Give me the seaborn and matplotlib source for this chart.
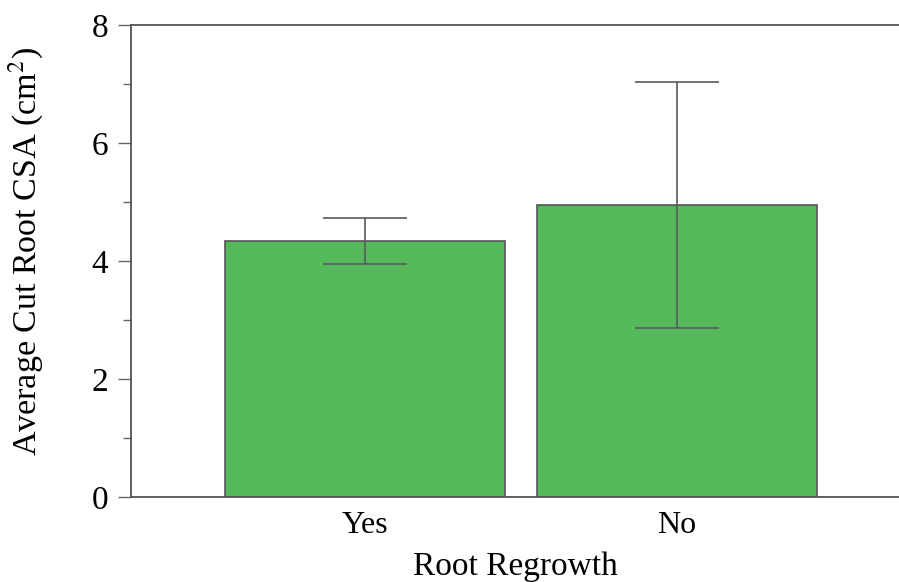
import matplotlib
matplotlib.use("Agg")
import matplotlib.pyplot as plt
import seaborn as sns
import pandas as pd
from matplotlib.ticker import MultipleLocator

# Data
categories = ["Yes", "No"]
mean_csa = [4.34, 4.95]
err_csa = [0.39, 2.09]
y_ticks = [0, 2, 4, 6, 8]

df = pd.DataFrame({"Root Regrowth": categories, "CSA": mean_csa})

sns.set_theme(style="white")
plt.rcParams["font.family"] = ["Liberation Serif", "DejaVu Serif"]
plt.rcParams["mathtext.fontset"] = "stix"
plt.rcParams["text.color"] = "black"
plt.rcParams["axes.labelcolor"] = "black"
plt.rcParams["xtick.color"] = "black"
plt.rcParams["ytick.color"] = "black"

fig = plt.figure(figsize=(8.99, 5.82), dpi=100)
ax = fig.add_axes([131 / 899, 1 - 497 / 582, 1 - 131 / 899, (497 - 25) / 582])

sns.barplot(data=df, x="Root Regrowth", y="CSA", order=categories,
            color="#55B85A", saturation=1, width=0.9, errorbar=None,
            edgecolor="#555555", linewidth=1.2, ax=ax)

ax.errorbar(range(len(categories)), mean_csa, yerr=err_csa, fmt="none",
            ecolor="#5a5a5a", elinewidth=1.2, capsize=30, capthick=1.2, zorder=3)

ax.set_ylim(0, 8)
ax.set_xlim(-0.75, -0.75 + 768 / 312)
ax.set_yticks(y_ticks)
ax.yaxis.set_minor_locator(MultipleLocator(1))
ax.tick_params(axis="y", which="major", direction="out", length=9.5, width=1.0,
               color="#666666", labelcolor="black", labelsize=24, pad=7, left=True)
ax.tick_params(axis="y", which="minor", direction="out", length=5.5, width=1.0,
               color="#666666", left=True)
ax.tick_params(axis="x", length=0, labelsize=23, labelcolor="black", pad=10)

for side in ["left", "bottom", "top"]:
    ax.spines[side].set_visible(True)
    ax.spines[side].set_color("#555555")
    ax.spines[side].set_linewidth(1.3)
ax.spines["right"].set_visible(False)

ax.set_xlabel("Root Regrowth", fontsize=24, labelpad=8, color="black")
ax.set_ylabel("Average Cut Root CSA (cm$^{2}$)", fontsize=24.5, color="black")
ax.yaxis.label.set_verticalalignment("center")
ax.yaxis.set_label_coords(-0.137, 0.52)

fig.savefig("out.png", dpi=100)
